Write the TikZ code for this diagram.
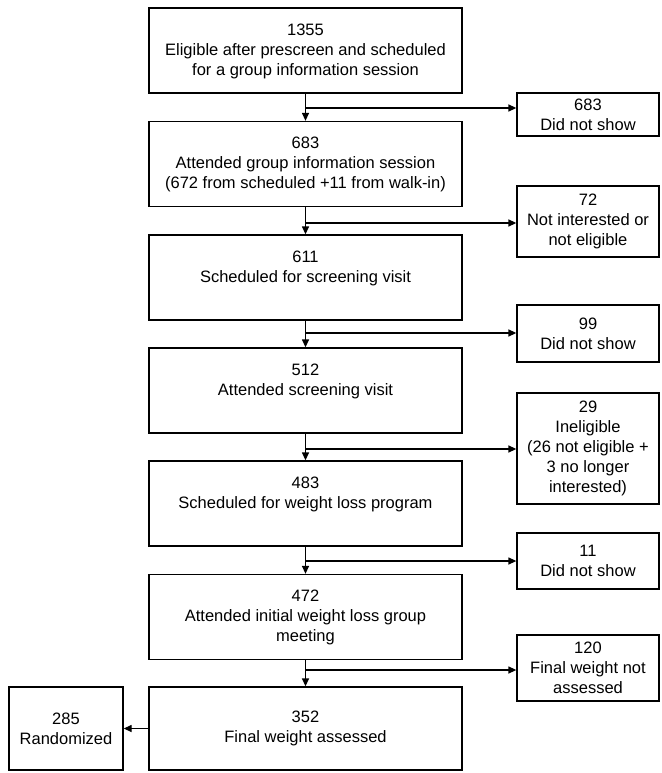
\documentclass[tikz,border=0pt]{standalone}
\usepackage{fontspec}
\setmainfont{Liberation Sans}
\usetikzlibrary{arrows.meta}
\begin{document}
\begin{tikzpicture}[x=1pt,y=-1pt,
  box/.style={draw, line width=1.3pt, inner sep=0pt},
  mainbox/.style={box, minimum width=313pt, minimum height=85pt},
  sidebox/.style={box, minimum width=142pt, align=center, font=\fontsize{16.5}{20}\selectfont},
  txt/.style={align=center, font=\fontsize{16.5}{20}\selectfont, inner sep=0pt},
  arr/.style={line width=1.3pt, -{Triangle[length=8pt,width=7pt]}}]
\useasboundingbox (0,0) rectangle (661,773);

% main column
\node[mainbox] (b1) at (305.5,50.5) {};
\node[mainbox] (b2) at (305.5,164) {};
\node[mainbox] (b3) at (305.5,277.5) {};
\node[mainbox] (b4) at (305.5,390.5) {};
\node[mainbox] (b5) at (305.5,503.5) {};
\node[mainbox] (b6) at (305.5,617) {};
\node[mainbox, txt, minimum width=313pt, minimum height=83pt] (b7) at (305.5,728.5) {352\\Final weight assessed};

\node[txt, anchor=north] (t1) at ([yshift=-16pt]b1.north) {1355\\Eligible after prescreen and scheduled\\for a group information session};
\node[txt, anchor=north] (t2) at ([yshift=-16pt]b2.north) {683\\Attended group information session\\(672 from scheduled +11 from walk-in)};
\node[txt, anchor=north] (t3) at ([yshift=-16pt]b3.north) {611\\Scheduled for screening visit};
\node[txt, anchor=north] (t4) at ([yshift=-16pt]b4.north) {512\\Attended screening visit};
\node[txt, anchor=north] (t5) at ([yshift=-16pt]b5.north) {483\\Scheduled for weight loss program};
\node[txt, anchor=north] (t6) at ([yshift=-16pt]b6.north) {472\\Attended initial weight loss group\\meeting};

% side boxes
\node[sidebox, minimum height=43pt] (s1) at (588,114.5) {683\\Did not show};
\node[sidebox, minimum height=71pt] (s2) at (588,221.5) {72\\Not interested or\\not eligible};
\node[sidebox, minimum height=57pt] (s3) at (588,333.5) {99\\Did not show};
\node[sidebox, minimum height=111pt] (s4) at (588,448.5) {29\\Ineligible\\(26 not eligible +\\3 no longer\\interested)};
\node[sidebox, minimum height=56pt] (s5) at (588,561) {11\\Did not show};
\node[sidebox, minimum height=66pt] (s6) at (588,668) {120\\Final weight not\\assessed};
\node[sidebox, minimum width=114pt, minimum height=83pt] (r) at (66,728.5) {285\\Randomized};

% junctions
\coordinate (j1) at (305.5,108);
\coordinate (j2) at (305.5,223);
\coordinate (j3) at (305.5,333);
\coordinate (j4) at (305.5,449);
\coordinate (j5) at (305.5,561);
\coordinate (j6) at (305.5,670);

\foreach \a/\b in {b1/b2,b2/b3,b3/b4,b4/b5,b5/b6,b6/b7}
  \draw[arr] (\a.south) -- (\b.north);
\foreach \j/\s in {j1/s1,j2/s2,j3/s3,j4/s4,j5/s5,j6/s6}
  \draw[arr] (\j) -- (\s.west |- \j);
\draw[arr] (b7.west) -- (r.east);
\end{tikzpicture}
\end{document}
